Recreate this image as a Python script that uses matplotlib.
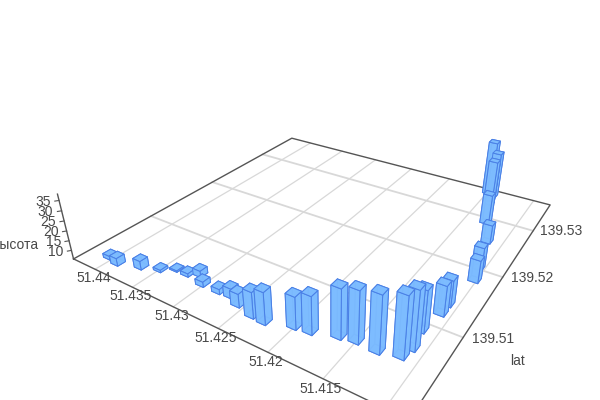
import matplotlib
matplotlib.use("Agg")
import matplotlib.pyplot as plt
import numpy as np

plt.rcParams["font.family"] = ["Liberation Sans", "DejaVu Sans"]

# Data
lng = [51.4405, 51.4391, 51.4368, 51.435, 51.4338, 51.4324, 51.4314, 51.4302, 51.4283, 51.427,
       51.4257, 51.4238, 51.4225, 51.4201, 51.4187, 51.4165, 51.4151, 51.4132, 51.4114, 51.4111,
       51.4114, 51.4109, 51.4109, 51.4102, 51.4106, 51.4115, 51.4129, 51.414, 51.4143, 51.415]
lat = [139.5022, 139.5019, 139.5027, 139.5034, 139.5043, 139.5043, 139.5049, 139.5039, 139.5039, 139.504,
       139.5034, 139.5029, 139.5028, 139.5037, 139.5039, 139.5047, 139.505, 139.5049, 139.5054, 139.5067,
       139.5091, 139.512, 139.5135, 139.5182, 139.5203, 139.5254, 139.5291, 139.5334, 139.5355, 139.536]
height = [7.4, 9.4, 9.9, 6.7, 6.2, 7.2, 8.7, 8.1, 8.0, 10.4,
          12.2, 18.2, 21.0, 21.0, 23.5, 28.8, 29.9, 32.1, 33.9, 33.0,
          25.4, 20.1, 18.4, 16.7, 17.0, 15.2, 21.2, 29.7, 30.2, 34.7]

lng_ticks = [51.44, 51.435, 51.43, 51.425, 51.42, 51.415, 51.41]
lat_ticks = [139.51, 139.52, 139.53]
z_ticks = [10, 15, 20, 25, 30, 35]

lng_max, lng_min = 51.4431, 51.4082
lat_min, lat_max = 139.4999, 139.5368
z_min, z_max = 5.5, 38

axis_color = "#555555"
grid_color = "#d8d8d8"
text_color = "#484848"

fig = plt.figure(figsize=(6, 4), dpi=100)
# axes box in pixels, the floor runs past the bottom of the figure
ax = fig.add_axes([79.0 / 600, -51.0 / 400, 488.6 / 600, 488.6 / 400], projection="3d", computed_zorder=False)
ax.set_axis_off()
ax.view_init(elev=28.57, azim=-57.24)
ax.set_proj_type("persp", focal_length=0.2254)
ax.set_box_aspect((1, 1, 0.1977))

# Floor grid
for v in lng_ticks:
    ax.plot([v, v], [lat_min, lat_max], [z_min, z_min], color=grid_color, lw=0.9, clip_on=False, zorder=1)
for v in lat_ticks:
    ax.plot([lng_max, lng_min], [v, v], [z_min, z_min], color=grid_color, lw=1.3, clip_on=False, zorder=1)

# Floor frame and height axis
ax.plot([lng_max, lng_min, lng_min, lng_max, lng_max],
        [lat_min, lat_min, lat_max, lat_max, lat_min],
        [z_min] * 5, color=axis_color, lw=1, clip_on=False, zorder=2)
ax.plot([lng_max, lng_max], [lat_min, lat_min], [z_min, z_max], color=axis_color, lw=1, clip_on=False, zorder=2)

# Bars
dx = 0.00092
dy = 0.00096
x0 = np.array(lng) - dx / 2
y0 = np.array(lat) - dy / 2
bars = ax.bar3d(x0, y0, np.full(len(lng), z_min), dx, dy, np.array(height) - z_min,
                color="#7dbcff", edgecolor="#4a80e6", linewidth=0.7, shade=False, alpha=0.95, zorder=3)
bars.set_clip_on(False)

ax.set_xlim(lng_max, lng_min)
ax.set_ylim(lat_min, lat_max)
ax.set_zlim(z_min, z_max)

# Tick labels
lat_span = lat_max - lat_min
lng_span = lng_max - lng_min
for v in lng_ticks:
    ax.text(v, lat_min - 0.01 * lat_span, z_min - 3.5, str(v), fontsize=10, color=text_color, ha="center", va="center")
for v in lat_ticks:
    ax.text(lng_min - 0.02 * lng_span, v, z_min + 1, str(v), fontsize=10, color=text_color, ha="left", va="center")
for v in z_ticks:
    ax.plot([lng_max + 0.006 * lng_span, lng_max], [lat_min - 0.008 * lat_span, lat_min], [v, v],
            color=axis_color, lw=0.8, clip_on=False, zorder=2)
    ax.text(lng_max + 0.012 * lng_span, lat_min - 0.016 * lat_span, v, str(v), fontsize=10,
            color=text_color, ha="right", va="center")

# Axis names
ax.text(lng_max + 0.065 * lng_span, lat_min - 0.05 * lat_span, 13.5, "высота", fontsize=10,
        color=text_color, ha="right", va="center")
ax.text(lng_min - 0.125 * lng_span, 139.5097, z_min, "lat", fontsize=10, color=text_color, ha="center", va="center")

fig.savefig("out.png", dpi=100)
